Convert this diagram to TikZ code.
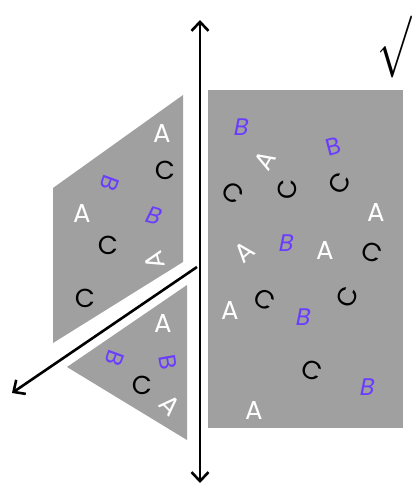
\documentclass[tikz,border=0pt]{standalone}
\usepackage{fontspec}
\setmainfont{Poppins}
\newfontfamily\slfont[FakeSlant=0.2]{Poppins}
\usetikzlibrary{arrows.meta}
\definecolor{pgrey}{HTML}{A0A0A0}
\definecolor{pblue}{HTML}{6A3CFF}
\tikzset{
  panel/.style={fill=pgrey, draw=none},
  la/.style={text=white, font=\fontsize{26}{26}\selectfont, inner sep=0pt},
  lb/.style={text=pblue, font=\fontsize{24}{24}\selectfont, inner sep=0pt},
  lbi/.style={text=pblue, font=\fontsize{24}{24}\slfont, inner sep=0pt},
  lc/.style={text=black, font=\fontsize{26}{26}\selectfont, inner sep=0pt},
  axis/.style={line width=2.6pt, -{Straight Barb[length=9pt,width=17pt,line width=2.6pt]}},
  daxis/.style={line width=2.6pt, {Straight Barb[length=9pt,width=17pt,line width=2.6pt]}-{Straight Barb[length=9pt,width=17pt,line width=2.6pt]}}
}
\begin{document}
\begin{tikzpicture}[x=1pt,y=-1pt]
\useasboundingbox (0,0) rectangle (417,485);
% panels
\fill[panel] (208,90) rectangle (403,428);
\fill[panel] (53,188) -- (183,95) -- (183,262) -- (53,343) -- cycle;
\fill[panel] (67,367) -- (187,285) -- (187,440) -- cycle;
% axes
\coordinate (vt) at (200,20);
\coordinate (vb) at (200,483);
\coordinate (ds) at (197,267);
\coordinate (de) at (12,393);
\draw[daxis] (vt) -- (vb);
\draw[axis] (ds) -- (de);
% check
\node[anchor=south west, inner sep=0pt] (chk) at (377,78) {\scalebox{4.1}[6.2]{$\surd$}};
% upper left panel
\node[la] (a1) at (162,133) {A};
\node[lc] (c1) at (165,170) {C};
\node[lb, rotate=-110] (b1) at (110,183) {B};
\node[la] (a2) at (82,213) {A};
\node[lbi, rotate=-15] (b2) at (153,215) {B};
\node[lc] (c2) at (108,245) {C};
\node[la, rotate=105] (a3) at (155,260) {A};
\node[lc] (c3) at (85,298) {C};
% lower triangle
\node[la] (a4) at (163,323) {A};
\node[lb, rotate=-110] (b3) at (115,358) {B};
\node[lb, rotate=-80] (b4) at (168,362) {B};
\node[lc] (c4) at (142,385) {C};
\node[la, rotate=-45] (a5) at (170,405) {A};
% right rectangle
\node[lbi] (b5) at (240,127) {B};
\node[la, rotate=60] (a6) at (265,160) {A};
\node[lb, rotate=15] (b6) at (333,147) {B};
\node[lc, rotate=-40] (c5) at (233,193) {C};
\node[lc, rotate=90] (c6) at (287,189) {C};
\node[lc, rotate=60] (c7) at (340,183) {C};
\node[la] (a7) at (376,212) {A};
\node[la, rotate=40] (a8) at (244,252) {A};
\node[lbi] (b7) at (285,243) {B};
\node[la] (a9) at (325,250) {A};
\node[lc, rotate=-20] (c8) at (372,252) {C};
\node[la] (a10) at (230,310) {A};
\node[lc, rotate=-30] (c9) at (265,300) {C};
\node[lbi] (b8) at (302,317) {B};
\node[lc, rotate=70] (c10) at (347,297) {C};
\node[lc, rotate=-20] (c11) at (312,370) {C};
\node[lbi] (b9) at (366,387) {B};
\node[la] (a11) at (254,410) {A};
\end{tikzpicture}
\end{document}
